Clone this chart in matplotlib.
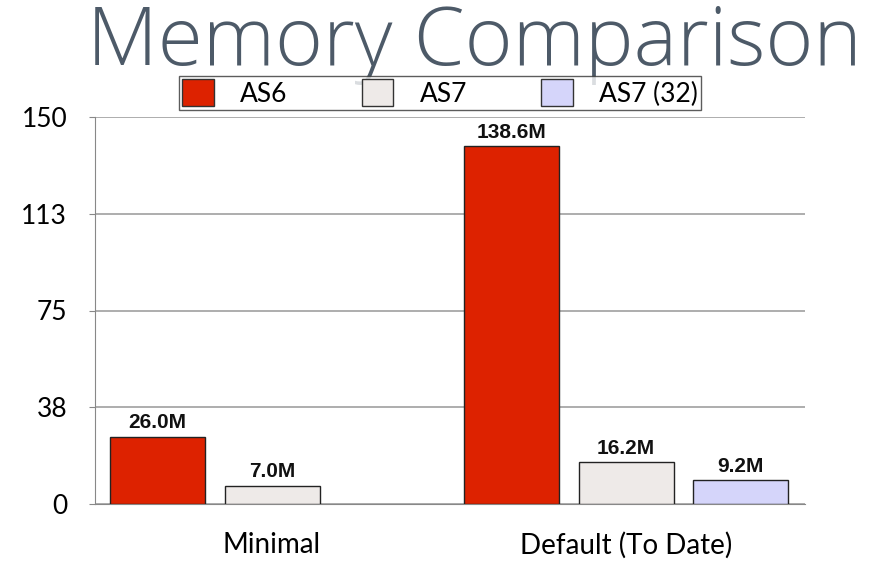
import matplotlib.pyplot as plt
from matplotlib.patches import Patch
import numpy as np

categories = ["Minimal", "Default (To Date)"]
series_names = ["AS6", "AS7", "AS7 (32)"]
as6 = [26.0, 138.6]
as7 = [7.0, 16.2]
as7_32 = [np.nan, 9.2]
tick_values = [0, 37.5, 75, 112.5, 150]
tick_labels = ["0", "38", "75", "113", "150"]

colors = ["#dd2200", "#eeeae8", "#d5d5fa"]

fig = plt.figure(figsize=(8.76, 5.67), dpi=100)
ax = fig.add_axes([95 / 876, 63 / 567, 710 / 876, 387 / 567])

x = np.arange(len(categories))
pitch = 0.324
width = 0.268
for i, (name, vals) in enumerate(zip(series_names, [as6, as7, as7_32])):
    pos = x + (i - 1) * pitch
    bars = ax.bar(pos, vals, width, color=colors[i], edgecolor="#222222",
                  linewidth=1.0, label=name, zorder=3)
    for b, v in zip(bars, vals):
        if np.isnan(v):
            continue
        ax.text(b.get_x() + b.get_width() / 2, v + 1.8, f"{v:.1f}M",
                ha="center", va="bottom", fontsize=15, fontweight="bold",
                family="Liberation Sans", color="#111111", zorder=4)

ax.set_xlim(-0.5, 1.505)
ax.set_ylim(0, 150)
ax.set_yticks(tick_values)
ax.set_yticklabels(tick_labels, family="Lato", fontsize=19)
ax.set_xticks(x)
ax.set_xticklabels(categories, family="Lato", fontsize=20)
ax.tick_params(axis="x", length=0, pad=20)
ax.tick_params(axis="y", length=4, color="#888888", pad=16)
ax.yaxis.grid(True, color="#a0a0a0", linewidth=1.2, zorder=0)
for s in ["top", "right"]:
    ax.spines[s].set_visible(False)
ax.spines["left"].set_color("#888888")
ax.spines["bottom"].set_color("#888888")

handles = [Patch(facecolor=c, edgecolor="#333333", label=n)
           for c, n in zip(colors, series_names)]
fig.legend(handles=handles, loc="center", bbox_to_anchor=(440 / 876, 1 - 93 / 567),
           ncol=3, frameon=True, fancybox=False, edgecolor="#333333",
           prop={"family": "Lato", "size": 19}, handlelength=1.2, handleheight=1.2,
           columnspacing=2.8, handletextpad=1.0, borderpad=0.12, borderaxespad=0)

fig.text(474 / 876, 1 - 44 / 567, "Memory Comparison", ha="center", va="center",
         fontsize=59, family="Open Sans", fontweight="light", color="#4d5a68")

fig.savefig("out.png", dpi=100)
